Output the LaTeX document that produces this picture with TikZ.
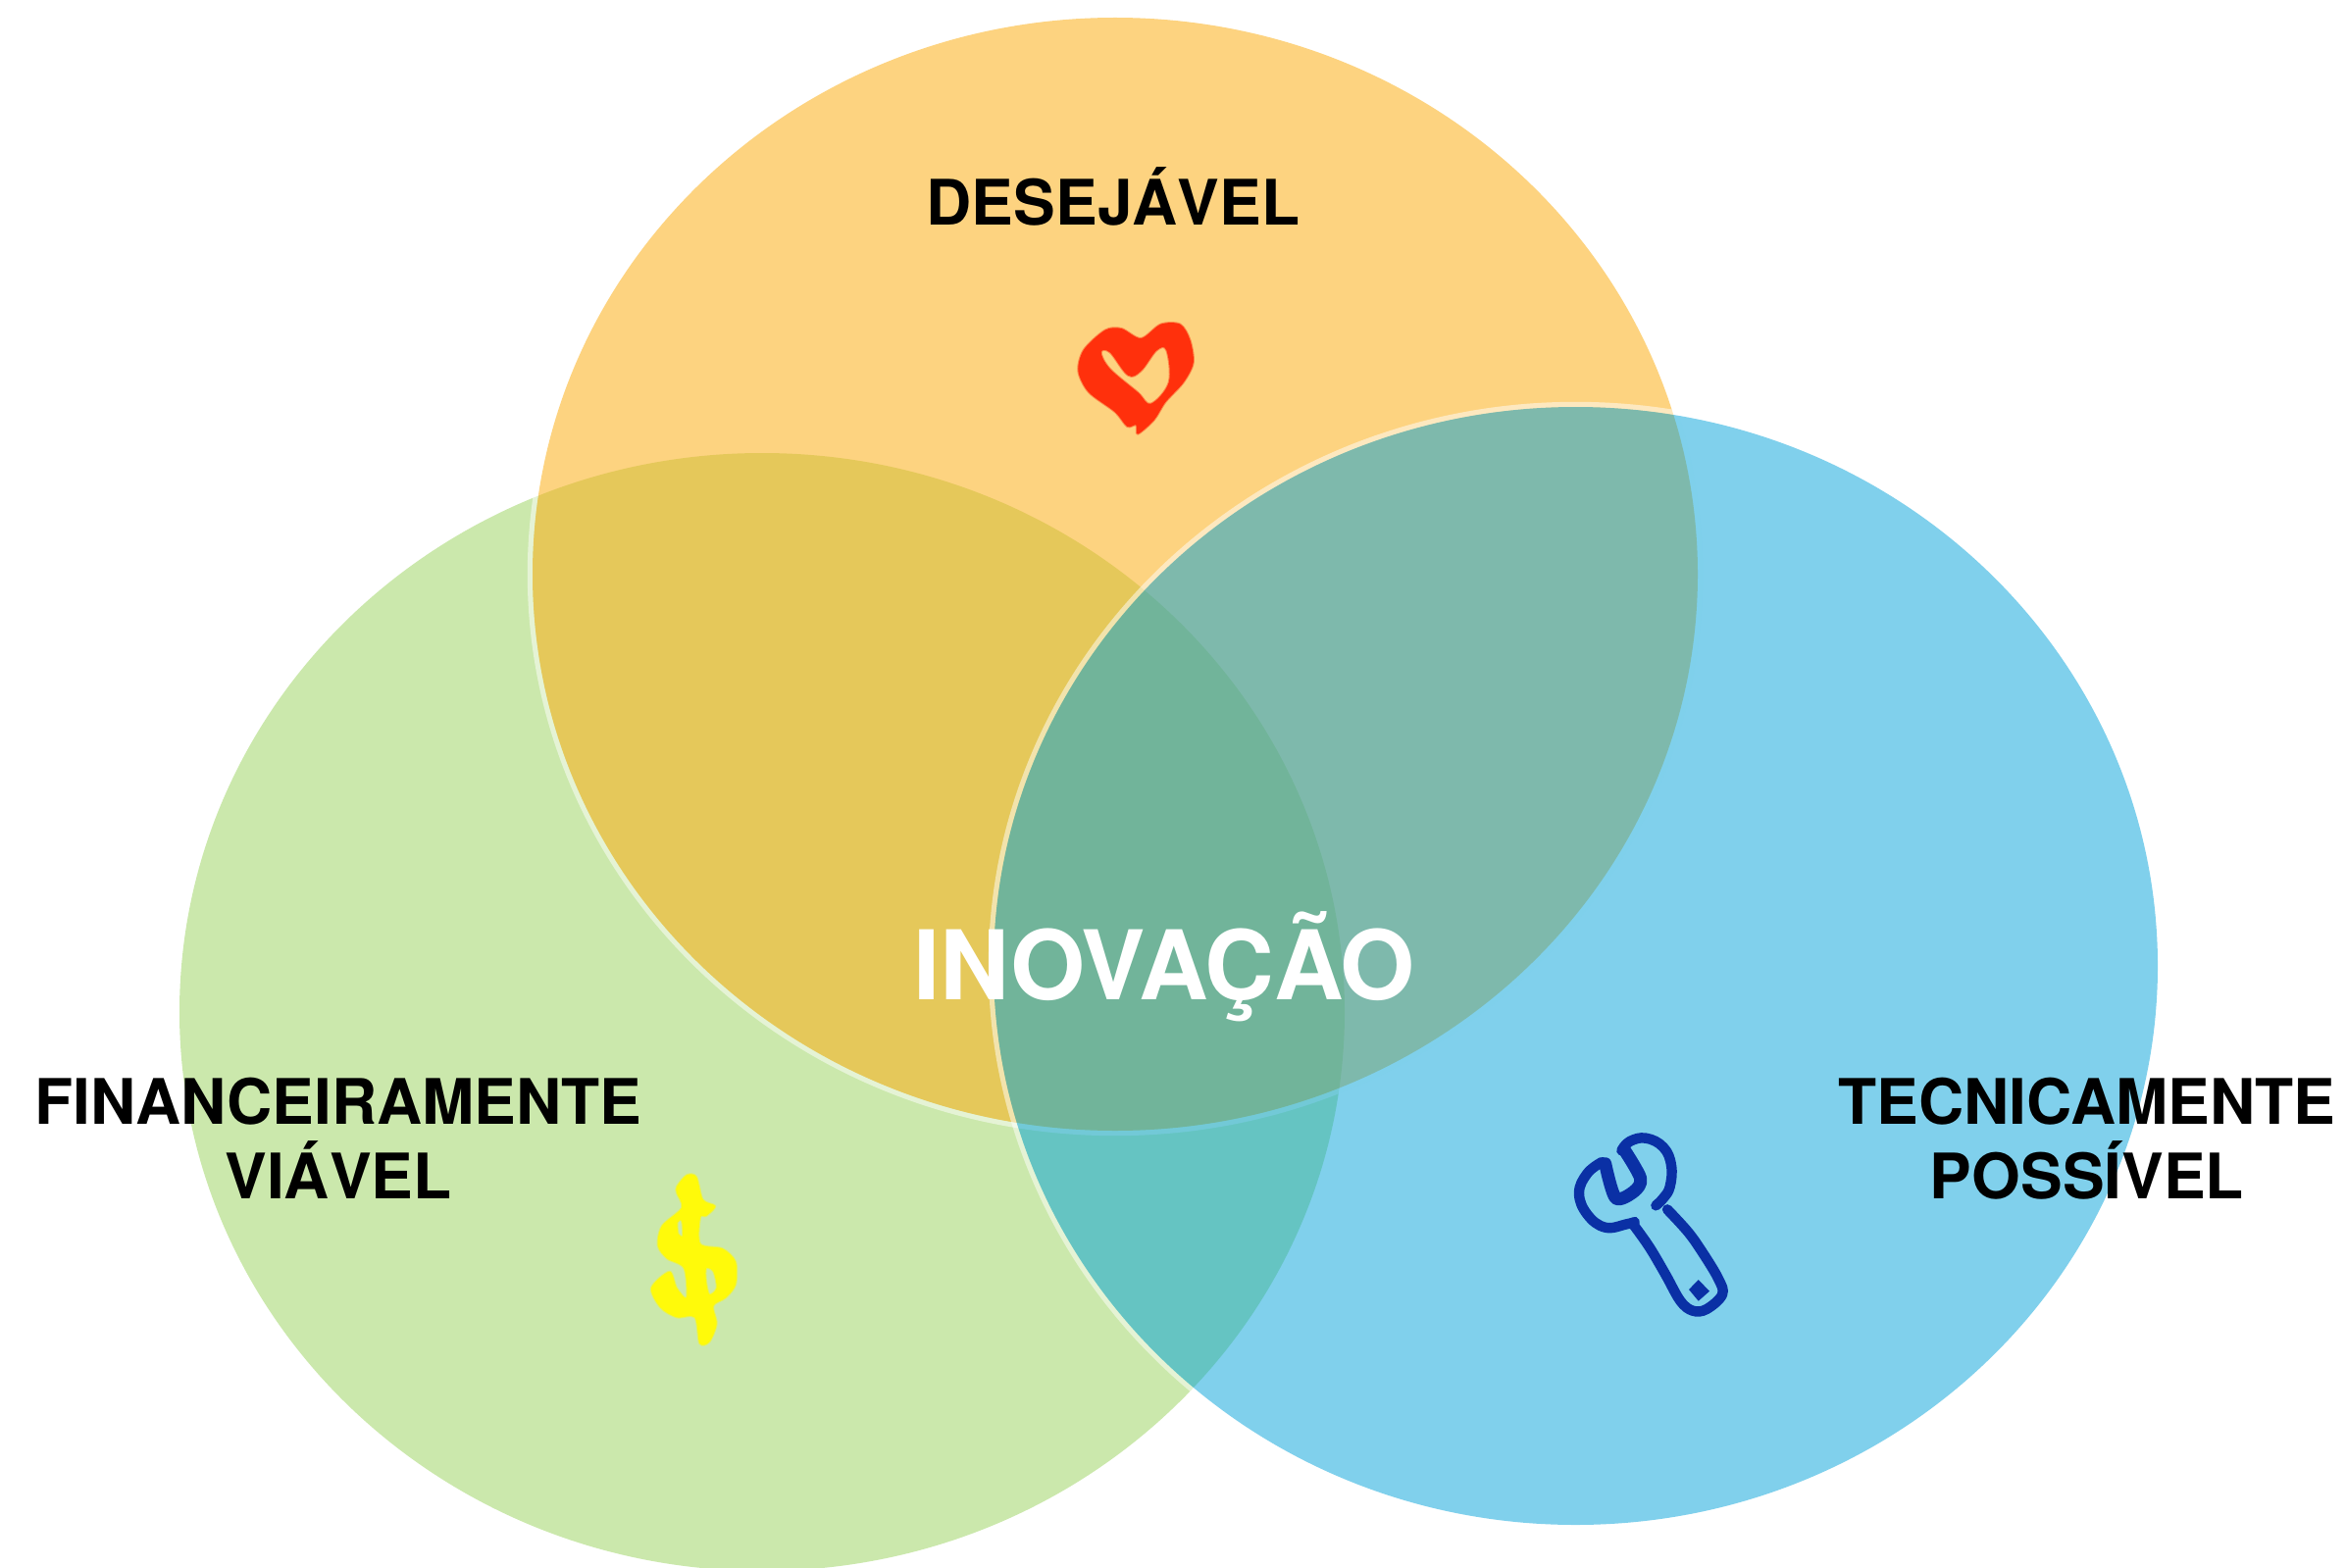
\documentclass[tikz,border=0pt]{standalone}
\usepackage{fontspec}
\setmainfont{TeX Gyre Heros}
\definecolor{orangeC}{RGB}{251,175,24}
\definecolor{greenC}{RGB}{151,209,89}
\definecolor{blueC}{RGB}{1,161,217}
\definecolor{heartC}{RGB}{255,48,12}
\definecolor{dollarC}{RGB}{255,250,10}
\definecolor{wrenchC}{RGB}{10,48,165}
\tikzset{
  rim/.style={draw=white,draw opacity=.5,line width=2.6pt,fill=none},
  labeltext/.style={font=\fontsize{32}{38}\selectfont\bfseries,text=black,align=center,inner sep=0pt},
  icon/.style={x=.1667pt,y=-.1667pt},
  soft/.style={line width=1pt,line join=round,draw opacity=.45},
  wrenchline/.style={draw=wrenchC,line width=5.2pt,line cap=round,line join=round,fill=none}
}
\begin{document}
\begin{tikzpicture}[x=.5pt,y=-.5pt]
\useasboundingbox (0,0) rectangle (2392,1599);
\clip (0,0) rectangle (2392,1599);
% green
\fill[greenC,fill opacity=.5] (777,1032) ellipse [x radius=297pt,y radius=285pt];
% orange
\draw[rim] (1137,585.5) ellipse [x radius=298.3pt,y radius=285.05pt];
\fill[orangeC,fill opacity=.55] (1137,585.5) ellipse [x radius=297pt,y radius=283.75pt];
% blue
\draw[rim] (1606.5,985) ellipse [x radius=298.05pt,y radius=286.3pt];
\fill[blueC,fill opacity=.5] (1606.5,985) ellipse [x radius=296.75pt,y radius=285pt];
% heart
\begin{scope}[shift={(1060,300)},icon]
\path[fill=heartC,draw=heartC,soft,even odd rule] plot[smooth cycle,tension=.5] coordinates {(268,405) (230,360) (150,300) (118,235) (135,170) (200,110) (250,105) (310,135) (370,92) (430,92) (460,140) (470,210) (440,270) (385,330) (350,385) (300,428) (295,400)}
 plot[smooth cycle,tension=.6] coordinates {(188,178) (215,178) (270,248) (310,235) (358,172) (388,172) (395,270) (340,335) (300,300) (215,228)};
\end{scope}
% dollar
\begin{scope}[shift={(640,1180)},icon]
\path[fill=dollarC,draw=dollarC,soft,even odd rule] plot[smooth cycle,tension=.5] coordinates {(150,90) (180,55) (210,60) (230,130) (268,150) (240,180) (222,185) (222,265) (290,280) (330,320) (330,390) (300,430) (262,455) (272,510) (250,565) (220,570) (205,490) (150,490) (100,460) (72,400) (128,350) (150,400) (180,430) (172,340) (120,310) (92,270) (105,210) (165,155) (150,110)}
 plot[smooth cycle,tension=.5] coordinates {(152,200) (165,195) (168,240) (155,235)}
 plot[smooth cycle,tension=.5] coordinates {(240,340) (262,350) (272,400) (250,420) (240,380)};
\end{scope}
% wrench
\begin{scope}[shift={(1590,1140)},icon]
\draw[wrenchline] plot[smooth,tension=.7] coordinates {(190,100) (215,72) (265,62) (318,90) (342,145) (338,210) (318,245) (295,268)};
\draw[wrenchline,line width=6.5pt] plot[smooth,tension=.5] coordinates {(200,100) (248,185) (228,225) (172,245) (140,140)};
\draw[wrenchline] plot[smooth,tension=.7] coordinates {(130,135) (85,170) (60,230) (85,295) (140,335) (205,325) (230,318)};
\draw[wrenchline] plot[smooth,tension=.6] coordinates {(225,325) (275,395) (325,480) (370,560) (408,590) (450,585) (498,540) (485,490) (430,400) (390,345) (330,280)};
\fill[wrenchC] (425,495) -- (459,530) -- (425,560) -- (396,525) -- cycle;
\end{scope}
% labels
\node[labeltext,anchor=base] (des) at (1135,230) {DESEJÁVEL};
\node[labeltext] (fin) at (345,1161) {FINANCEIRAMENTE\\VIÁVEL};
\node[labeltext] (tec) at (2128,1161) {TECNICAMENTE\\POSSÍVEL};
\node[anchor=base,inner sep=0pt,text=white,font=\fontsize{49}{58}\selectfont\bfseries] (ino) at (1187,1019) {INOVAÇÃO};
\end{tikzpicture}
\end{document}
